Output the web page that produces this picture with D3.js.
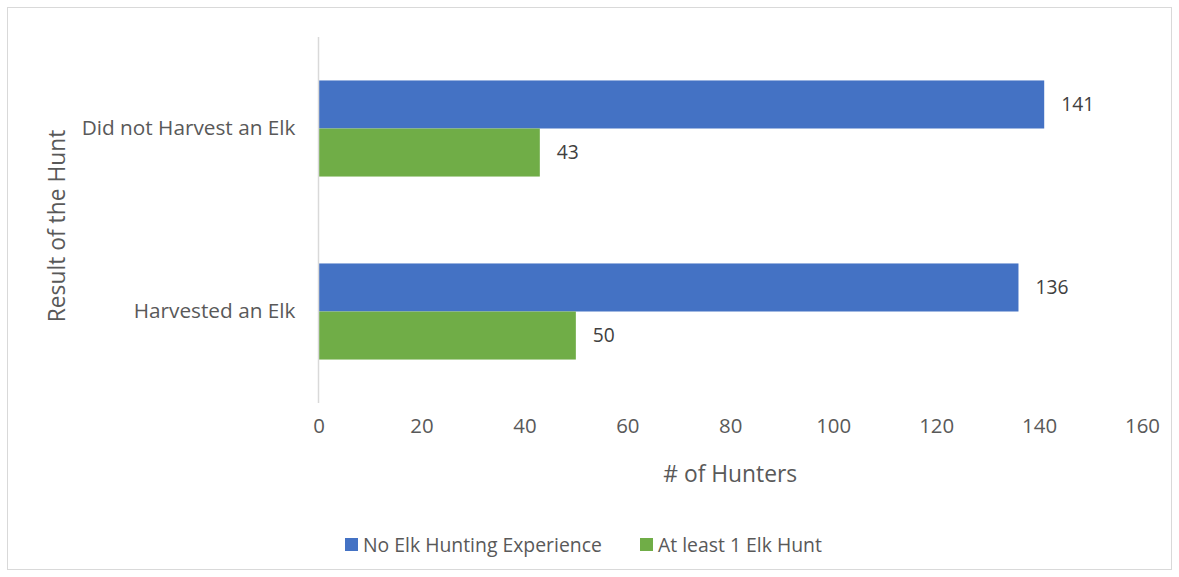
<!DOCTYPE html>
<html><head><meta charset="utf-8">
<script src="https://cdn.jsdelivr.net/npm/d3@7"></script>
<style>
html,body{margin:0;padding:0;background:#fff;}
text{font-family:"Open Sans",sans-serif;}
</style></head>
<body>
<svg id="c" width="1179" height="577"></svg>
<script>
const categories = ["Did not Harvest an Elk", "Harvested an Elk"];
const seriesNames = ["No Elk Hunting Experience", "At least 1 Elk Hunt"];
const noExperience = [141, 136];
const atLeastOne = [43, 50];
const xTicks = [0, 20, 40, 60, 80, 100, 120, 140, 160];
const colors = ["#4472C4", "#70AD47"];

const svg = d3.select("#c");
svg.append("rect").attr("x", 7.5).attr("y", 7.5).attr("width", 1164).attr("height", 562)
  .attr("fill", "#fff").attr("stroke", "#d9d9d9");

// size a font so a reference string reaches a target width
function fitSize(str, target, base) {
  const t = svg.append("text").attr("font-size", base).text(str);
  const w = t.node().getComputedTextLength();
  t.remove();
  return base * target / w;
}
const catSize = fitSize("Did not Harvest an Elk", 214, 20);
const tickSize = fitSize("160", 35, 20);
const lblSize = fitSize("141", 33, 20);
const titleSize = fitSize("# of Hunters", 134, 20);
const legSize = fitSize("No Elk Hunting Experience", 239, 20);

const L = 318.5, R = 1142, T = 37, B = 403;
const x = d3.scaleLinear().domain([0, 160]).range([L, R]);
const y = d3.scaleBand().domain(categories).range([T, B]).paddingInner(0.475).paddingOuter(0.2375);
const yi = d3.scaleBand().domain(seriesNames).range([0, y.bandwidth()]);

const rows = categories.map((c, i) => ({cat: c, vals: [noExperience[i], atLeastOne[i]]}));

const g = svg.append("g");
rows.forEach(r => {
  r.vals.forEach((v, j) => {
    g.append("rect")
      .attr("x", x(0)).attr("y", y(r.cat) + yi(seriesNames[j]))
      .attr("width", x(v) - x(0)).attr("height", yi.bandwidth())
      .attr("fill", colors[j]);
    g.append("text")
      .attr("x", x(v) + 17).attr("y", y(r.cat) + yi(seriesNames[j]) + yi.bandwidth() / 2)
      .attr("dy", "0.35em").attr("font-size", lblSize).attr("fill", "#404040")
      .text(v);
  });
});

svg.append("line").attr("x1", L).attr("x2", L).attr("y1", T).attr("y2", B)
  .attr("stroke", "#d9d9d9").attr("stroke-width", 1.5);

const xa = svg.append("g").attr("transform", `translate(0,${B})`)
  .call(d3.axisBottom(x).tickValues(xTicks).tickSize(0).tickPadding(16));
xa.select(".domain").remove();
xa.selectAll("text").attr("font-size", tickSize).attr("fill", "#595959").attr("font-family", "Open Sans");

const ya = svg.append("g").attr("transform", `translate(${L},0)`)
  .call(d3.axisLeft(y).tickSize(0).tickPadding(23));
ya.select(".domain").remove();
ya.selectAll("text").attr("font-size", catSize).attr("fill", "#595959").attr("font-family", "Open Sans");

svg.append("text").attr("x", (L + R) / 2).attr("y", 474).attr("dy", "0.35em")
  .attr("text-anchor", "middle").attr("font-size", titleSize).attr("fill", "#595959").text("# of Hunters");
svg.append("text").attr("transform", `translate(57,${(122 + 330) / 2}) rotate(-90)`).attr("dy", "0.35em")
  .attr("text-anchor", "middle").attr("font-size", titleSize).attr("fill", "#595959").text("Result of the Hunt");

const leg = svg.append("g");
const legX = [345, 640];
seriesNames.forEach((s, i) => {
  leg.append("rect").attr("x", legX[i]).attr("y", 538).attr("width", 13).attr("height", 13).attr("fill", colors[i]);
  leg.append("text").attr("x", legX[i] + 18).attr("y", 545).attr("dy", "0.35em")
    .attr("font-size", legSize).attr("fill", "#595959").text(s);
});
</script>
</body></html>
